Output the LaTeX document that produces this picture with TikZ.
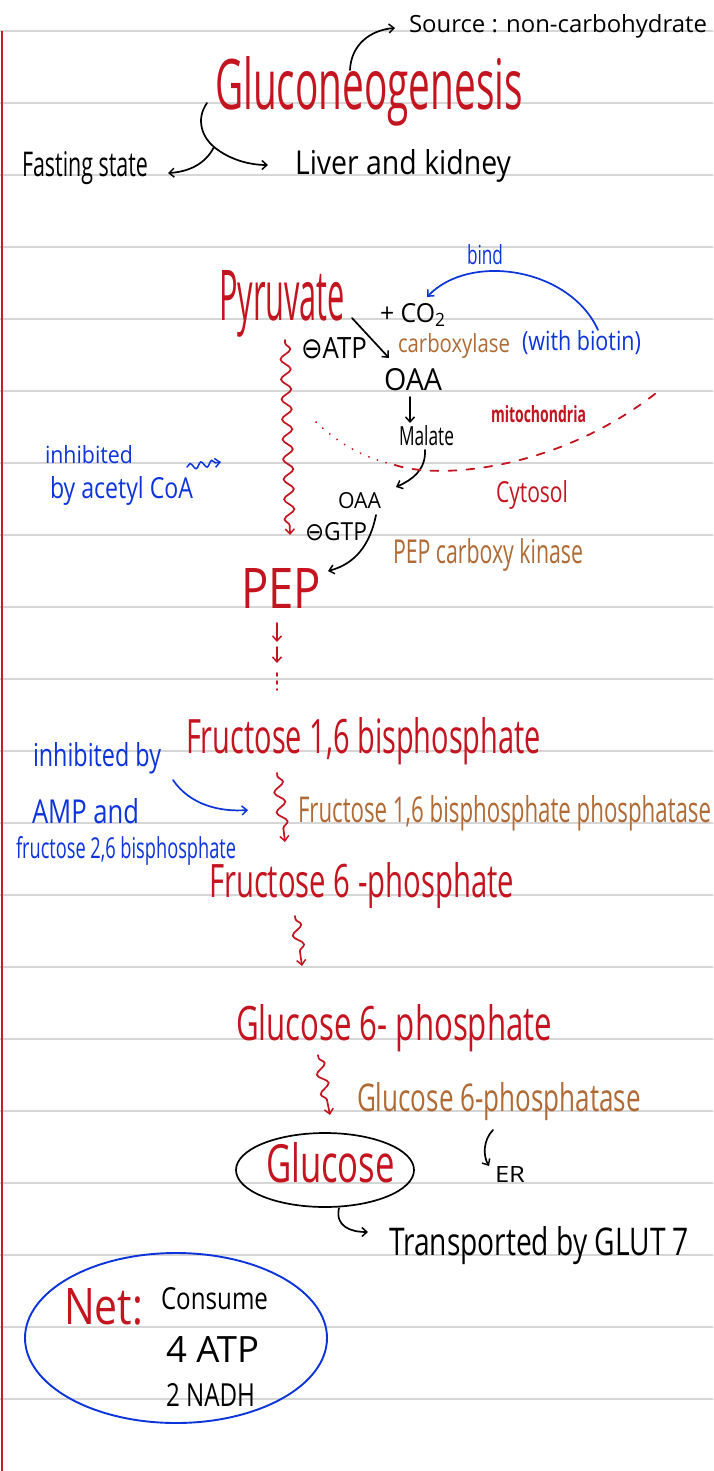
\documentclass[tikz,border=0pt]{standalone}
\usepackage{fontspec}
\setmainfont{Open Sans}
\newfontfamily\symfont{DejaVu Sans}
\usetikzlibrary{arrows.meta,decorations.pathmorphing,shapes.geometric}
\definecolor{inkred}{RGB}{196,20,32}
\definecolor{inkbrown}{RGB}{176,106,53}
\definecolor{inkblue}{RGB}{12,52,218}
\definecolor{rulegray}{RGB}{214,214,214}
\definecolor{marginred}{RGB}{200,30,30}
\newcommand{\hw}[3]{\resizebox{#1pt}{#2pt}{#3}}
\newcommand{\minuscirc}{{\symfont ⊖}}
\tikzset{
  txt/.style={anchor=base west, inner sep=0pt, outer sep=0pt},
  ink/.style={line width=1.7pt, line cap=round, -{Straight Barb[length=5pt,width=9pt,line width=1.5pt]}},
  wavy/.style={ink, inkred, decorate, decoration={snake, amplitude=5pt, segment length=20pt, post length=7pt, pre length=3pt}},
  rule/.style={rulegray, line width=1.1pt},
}
\begin{document}
\begin{tikzpicture}[x=1pt,y=-1pt]
\useasboundingbox (0,0) rectangle (713,1471);
\fill[white] (0,0) rectangle (713,1471);
\foreach \k in {0,...,19} \draw[rule] (0,31+72*\k) -- (713,31+72*\k);
\draw[marginred, line width=2.4pt] (2,31) -- (2,1471);

% ---- title block
\node[txt] (src) at (409,33) {\hw{298}{18}{Source : non-carbohydrate}};
\node[txt, inkred] (title) at (215,110) {\hw{308}{53}{Gluconeogenesis}};
\node[txt] (fast) at (22,177) {\hw{126}{25}{Fasting state}};
\node[txt] (liver) at (295,175) {\hw{216}{25}{Liver and kidney}};
\coordinate (t1) at (350,70);
\coordinate (t2) at (395,28);
\draw[ink] (t1) .. controls (351,45) and (370,30) .. (t2);
\coordinate (sp0) at (207,103);
\coordinate (sp1) at (214,147);
\coordinate (fe) at (168,173);
\coordinate (le) at (268,165);
\draw[line width=1.7pt, line cap=round] (sp0) .. controls (195,120) and (203,138) .. (sp1);
\draw[ink] (sp1) .. controls (205,165) and (187,172) .. (fe);
\draw[ink] (sp1) .. controls (230,160) and (250,165) .. (le);

% ---- pyruvate carboxylase
\node[txt, inkred] (pyr) at (219,320) {\hw{126}{50}{Pyruvate}};
\node[txt] (co2) at (380,322) {\hw{65}{19}{+ CO\raisebox{-0.3ex}{\scriptsize 2}}};
\node[txt] (atp) at (301,358) {\hw{66}{21}{\minuscirc ATP}};
\node[txt, inkbrown] (carb) at (398,352) {\hw{112}{19}{carboxylase}};
\node[txt, inkblue] (biot) at (522,350) {\hw{119}{20}{(with biotin)}};
\node[txt, inkblue] (bind) at (467,265) {\hw{36}{20}{bind}};
\node[txt] (oaa1) at (384,390) {\hw{58}{22}{OAA}};
\node[txt] (mal) at (399,445) {\hw{55}{20}{Malate}};
\node[txt, inkred, font=\bfseries] (mito) at (491,422) {\hw{95}{17}{mitochondria}};
\node[txt, inkred] (cyto) at (496,502) {\hw{72}{22}{Cytosol}};
\node[txt] (oaa2) at (338,508) {\hw{43}{16}{OAA}};
\node[txt] (gtp) at (305,540) {\hw{62}{18}{\minuscirc GTP}};
\node[txt, inkbrown] (pepck) at (393,563) {\hw{190}{25}{PEP carboxy kinase}};
\node[txt, inkred] (pep) at (241,608) {\hw{80}{40}{PEP}};
\node[txt, inkblue] (inh1) at (45,463) {\hw{88}{18}{inhibited}};
\node[txt, inkblue] (inh2) at (50,498) {\hw{143}{22}{by acetyl CoA}};

\coordinate (b1) at (598,330);
\coordinate (b2) at (427,297);
\draw[ink, inkblue] (b1) .. controls (570,268) and (470,252) .. (b2);
\coordinate (p1) at (352,318);
\coordinate (p2) at (389,358);
\draw[ink] (p1) -- (p2);
\coordinate (o1) at (410,397);
\coordinate (o2) at (410,423);
\draw[ink] (o1) -- (o2);
\coordinate (m1) at (425,450);
\coordinate (m2) at (396,487);
\draw[ink] (m1) .. controls (426,470) and (412,480) .. (m2);
\coordinate (g1) at (376,515);
\coordinate (g2) at (328,571);
\draw[ink] (g1) .. controls (370,545) and (355,564) .. (g2);
\coordinate (w1) at (285,340);
\coordinate (w2) at (290,535);
\draw[wavy] (w1) -- (w2);
\coordinate (q1) at (187,467);
\coordinate (q2) at (221,462);
\draw[ink, inkblue, line width=1.5pt, decorate, decoration={snake, amplitude=3pt, segment length=11pt, post length=5pt}] (q1) -- (q2);
% membrane
\coordinate (d1) at (316,422);
\coordinate (d2) at (395,465);
\coordinate (d3) at (660,390);
\draw[inkred, line width=2pt, line cap=round, dash pattern=on 0.1pt off 9pt] (d1) .. controls (340,445) and (365,458) .. (d2);
\draw[inkred, line width=1.8pt, line cap=round, dash pattern=on 8pt off 10pt] (d2) .. controls (440,480) and (560,470) .. (d3);

% ---- PEP to F1,6BP
\coordinate (r1) at (277,623);
\coordinate (r2) at (277,642);
\coordinate (r3) at (277,647);
\coordinate (r4) at (277,663);
\coordinate (r5) at (277,673);
\coordinate (r6) at (277,690);
\draw[ink, inkred] (r1) -- (r2);
\draw[ink, inkred] (r3) -- (r4);
\draw[inkred, line width=1.7pt, line cap=round, dash pattern=on 3pt off 5pt] (r5) -- (r6);

\node[txt, inkred] (f16) at (186,753) {\hw{355}{36}{Fructose 1,6 bisphosphate}};
\node[txt, inkblue] (inh3) at (33,766) {\hw{128}{24}{inhibited by}};
\node[txt, inkblue] (amp) at (32,823) {\hw{107}{25}{AMP and}};
\node[txt, inkblue] (f26) at (16,858) {\hw{220}{22}{fructose 2,6 bisphosphate}};
\node[txt, inkbrown] (fbp) at (298,822) {\hw{413}{27}{Fructose 1,6 bisphosphate phosphatase}};
\node[txt, inkred] (f6p) at (209,897) {\hw{305}{35}{Fructose 6 -phosphate}};
\coordinate (a1) at (173,780);
\coordinate (a2) at (248,810);
\draw[ink, inkblue] (a1) .. controls (190,805) and (220,812) .. (a2);
\coordinate (w3) at (277,773);
\coordinate (w4) at (285,842);
\draw[wavy] (w3) -- (w4);

% ---- to glucose
\coordinate (w5) at (295,916);
\coordinate (w6) at (302,966);
\draw[wavy] (w5) -- (w6);
\node[txt, inkred] (g6p) at (236,1040) {\hw{316}{36}{Glucose 6- phosphate}};
\coordinate (w7) at (318,1055);
\coordinate (w8) at (330,1115);
\draw[wavy] (w7) -- (w8);
\node[txt, inkbrown] (g6pase) at (357,1111) {\hw{284}{29}{Glucose 6-phosphatase}};
\node[draw, ellipse, line width=1.7pt, minimum width=178pt, minimum height=74pt, inner sep=0pt] (ring) at (325,1170) {};
\node[txt, inkred] (glc) at (266,1182) {\hw{129}{40}{Glucose}};
\coordinate (e1) at (493,1130);
\coordinate (e2) at (489,1166);
\draw[ink] (e1) .. controls (483,1140) and (483,1156) .. (e2);
\node[txt] (er) at (495,1182) {\hw{30}{16}{ER}};
\coordinate (x1) at (339,1208);
\coordinate (x2) at (368,1232);
\draw[ink] (x1) .. controls (335,1226) and (350,1232) .. (x2);
\node[txt] (glut) at (389,1255) {\hw{300}{29}{Transported by GLUT 7}};

% ---- net
\node[draw=inkblue, ellipse, line width=1.9pt, minimum width=302pt, minimum height=170pt, inner sep=0pt] (netring) at (176,1338) {};
\node[txt, inkred] (net) at (64,1324) {\hw{79}{36}{Net:}};
\node[txt] (cons) at (161,1309) {\hw{107}{22}{Consume}};
\node[txt] (atp4) at (166,1362) {\hw{93}{26}{4 ATP}};
\node[txt] (nadh) at (166,1406) {\hw{89}{23}{2 NADH}};
\end{tikzpicture}
\end{document}
